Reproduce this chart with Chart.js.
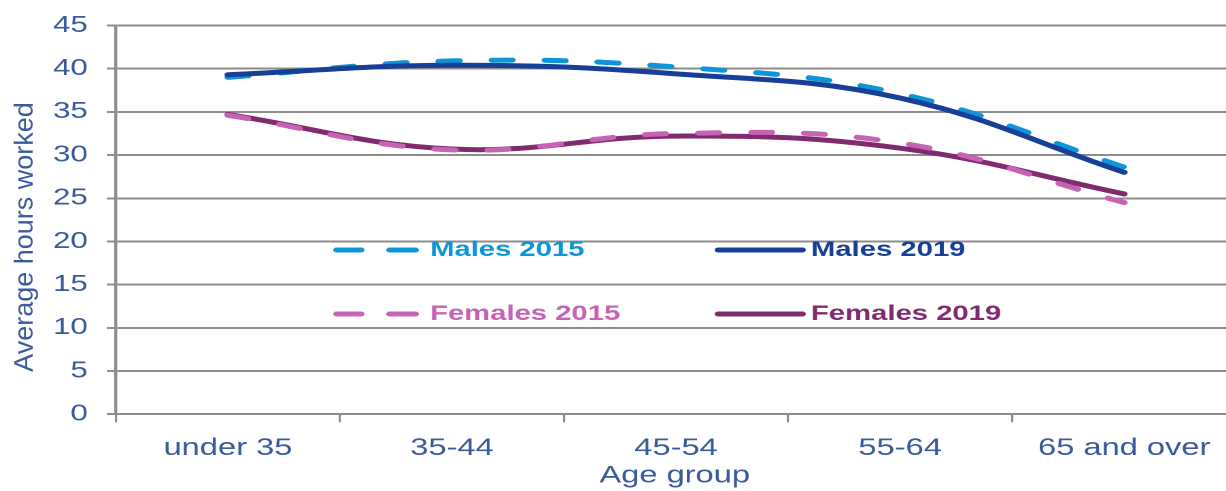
<!DOCTYPE html>
<html>
<head>
<meta charset="utf-8">
<script src="https://cdn.jsdelivr.net/npm/chart.js@4/dist/chart.umd.min.js"></script>
<style>
  html, body { margin: 0; padding: 0; background: #ffffff; overflow: hidden; width: 1226px; height: 491px; }
  #wrap { position: absolute; left: 0; top: 0; width: 910px; height: 491px; transform: scaleX(1.36); transform-origin: 0 0; }
  canvas { display: block; }
</style>
</head>
<body>
<div id="wrap"><canvas id="c" width="910" height="491"></canvas></div>
<script>
const categories = ["under 35", "35-44", "45-54", "55-64", "65 and over"];
const males2015 = [39.0, 40.9, 40.2, 37.1, 28.6];
const males2019 = [39.3, 40.4, 39.4, 36.6, 28.0];
const females2015 = [34.6, 30.6, 32.5, 31.4, 24.5];
const females2019 = [34.7, 30.7, 32.2, 30.8, 25.5];
const seriesNames = ["Males 2015", "Males 2019", "Females 2015", "Females 2019"];
const yTitle = "Average hours worked";
const xTitle = "Age group";

const SX = 1.36;
const C_M15 = "#0c96d9";
const C_M19 = "#173f96";
const C_F15 = "#c862b4";
const C_F19 = "#7f2c6e";
const AXIS_TEXT = "#3a5a9b";
const GRID = "#8c8c8c";
const FONT = "'Liberation Sans', Arial, sans-serif";

const overlay = {
  id: "overlay",
  afterDraw(chart) {
    const ctx = chart.ctx;
    const area = chart.chartArea;
    // y axis title (not horizontally stretched)
    ctx.save();
    ctx.translate(18.4, 237);
    ctx.scale(1 / SX, 1);
    ctx.rotate(-Math.PI / 2);
    ctx.fillStyle = AXIS_TEXT;
    ctx.font = "27px " + FONT;
    ctx.textAlign = "center";
    ctx.textBaseline = "middle";
    ctx.fillText(yTitle, 0, 0);
    ctx.restore();

    // x axis title
    ctx.save();
    ctx.fillStyle = AXIS_TEXT;
    ctx.font = "24px " + FONT;
    ctx.textAlign = "center";
    ctx.textBaseline = "middle";
    ctx.fillText(xTitle, (area.left + area.right) / 2 - 1, 476);
    ctx.restore();

    // legend
    const rows = [
      { y: 250, items: [{ name: seriesNames[0], color: C_M15, dash: true }, { name: seriesNames[1], color: C_M19, dash: false }] },
      { y: 314, items: [{ name: seriesNames[2], color: C_F15, dash: true }, { name: seriesNames[3], color: C_F19, dash: false }] }
    ];
    ctx.save();
    ctx.lineWidth = 5;
    ctx.lineCap = "round";
    ctx.font = "bold 21.5px " + FONT;
    ctx.textBaseline = "middle";
    ctx.textAlign = "left";
    rows.forEach(r => {
      r.items.forEach(it => {
        ctx.strokeStyle = it.color;
        ctx.fillStyle = it.color;
        if (it.dash) {
          ctx.beginPath();
          ctx.moveTo(247.5, r.y); ctx.lineTo(265.5, r.y);
          ctx.moveTo(286.5, r.y); ctx.lineTo(305.5, r.y);
          ctx.stroke();
          ctx.fillText(it.name, 316.2, r.y);
        } else {
          ctx.beginPath();
          ctx.moveTo(528, r.y); ctx.lineTo(590, r.y);
          ctx.stroke();
          ctx.fillText(it.name, 596.3, r.y);
        }
      });
    });
    ctx.restore();
  }
};

function ds(label, data, color, dashed, order) {
  return {
    label: label,
    data: data,
    borderColor: color,
    backgroundColor: color,
    borderWidth: 5,
    borderDash: dashed ? [15, 24] : [],
    borderCapStyle: "round",
    borderJoinStyle: "round",
    pointRadius: 0,
    pointHoverRadius: 0,
    tension: 0.4,
    fill: false,
    order: order
  };
}

new Chart(document.getElementById("c"), {
  type: "line",
  data: {
    labels: categories,
    datasets: [
      ds(seriesNames[0], males2015, C_M15, true, 2),
      ds(seriesNames[1], males2019, C_M19, false, 1),
      ds(seriesNames[2], females2015, C_F15, true, 3),
      ds(seriesNames[3], females2019, C_F19, false, 4)
    ]
  },
  options: {
    responsive: false,
    animation: false,
    devicePixelRatio: 2,
    layout: { padding: { left: 25, right: 1, top: 2, bottom: 16 } },
    plugins: { legend: { display: false }, tooltip: { enabled: false } },
    scales: {
      x: {
        offset: true,
        grid: { display: true, drawOnChartArea: false, drawTicks: true, offset: true, tickLength: 8, color: GRID, lineWidth: 1.6 },
        border: { display: true, color: GRID, width: 2 },
        ticks: { color: AXIS_TEXT, font: { family: FONT, size: 24 }, padding: 12, maxRotation: 0, autoSkip: false },
        title: { display: false }
      },
      y: {
        min: 0, max: 45,
        ticks: { stepSize: 5, color: AXIS_TEXT, font: { family: FONT, size: 23, lineHeight: 1 }, padding: 14 },
        grid: { color: GRID, lineWidth: 2, drawTicks: true, tickLength: 6.6 },
        border: { display: true, color: GRID, width: 2.2 },
        title: { display: false }
      }
    }
  },
  plugins: [overlay]
});
</script>
</body>
</html>
